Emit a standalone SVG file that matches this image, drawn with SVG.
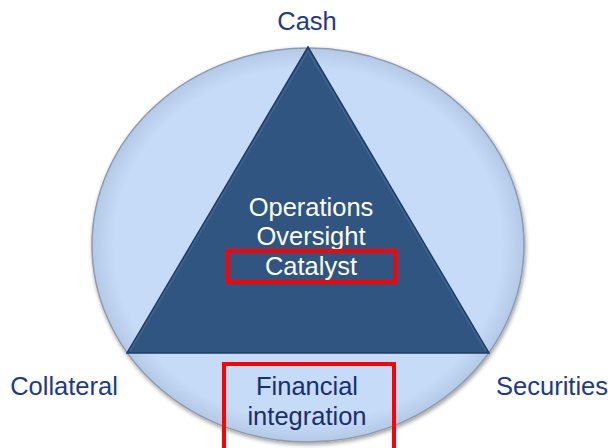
<svg xmlns="http://www.w3.org/2000/svg" width="608" height="448" viewBox="0 0 608 448">
  <defs>
    <filter id="sh" x="-10%" y="-10%" width="120%" height="120%">
      <feGaussianBlur in="SourceAlpha" stdDeviation="2"/>
      <feOffset dx="1" dy="2" result="b"/>
      <feComponentTransfer><feFuncA type="linear" slope="0.4"/></feComponentTransfer>
      <feMerge><feMergeNode/><feMergeNode in="SourceGraphic"/></feMerge>
    </filter>
    <radialGradient id="cg" cx="0.5" cy="0.5" r="0.5">
      <stop offset="0.9" stop-color="#c6dbf7"/>
      <stop offset="1" stop-color="#b4c9e6"/>
    </radialGradient>
  </defs>
  <style>
    .lbl { font-family: "Liberation Sans", Arial, sans-serif; font-size: 25.5px; fill: #1c3a8c; text-anchor: middle; }
    .in { font-family: "Liberation Sans", Arial, sans-serif; font-size: 25.5px; fill: #ffffff; text-anchor: middle; }
    .fin { font-family: "Liberation Sans", Arial, sans-serif; font-size: 25.5px; fill: #1a2f6e; text-anchor: middle; }
    .hl { fill: none; stroke: #ff0000; stroke-width: 4; }
  </style>
  <rect width="608" height="448" fill="#ffffff"/>
  <g id="circle">
    <ellipse cx="308" cy="245" rx="216" ry="197" fill="url(#cg)" stroke="#8d9bb0" stroke-width="1.5" filter="url(#sh)"/>
  </g>
  <g id="triangle">
    <polygon points="308,47 127,353 489,353" fill="#2f5580" stroke="#203d63" stroke-width="1.5"/>
    <polyline points="130,351 308,51 486,351" fill="none" stroke="#4a709c" stroke-width="1.5" opacity="0.6"/>
    <text class="in" x="311" y="216">Operations</text>
    <text class="in" x="311" y="245">Oversight</text>
    <text class="in" x="311" y="275">Catalyst</text>
  </g>
  <g id="catalyst-box">
    <rect class="hl" x="228" y="251" width="167" height="31" stroke-width="3.5"/>
  </g>
  <g id="cash">
    <text class="lbl" x="307" y="30">Cash</text>
  </g>
  <g id="collateral">
    <text class="lbl" x="64" y="395">Collateral</text>
  </g>
  <g id="securities">
    <text class="lbl" x="552" y="395">Securities</text>
  </g>
  <g id="financial">
    <text class="fin" x="307" y="395">Financial</text>
    <text class="fin" x="307" y="425">integration</text>
    <rect class="hl" x="224" y="364" width="170" height="92"/>
  </g>
</svg>
